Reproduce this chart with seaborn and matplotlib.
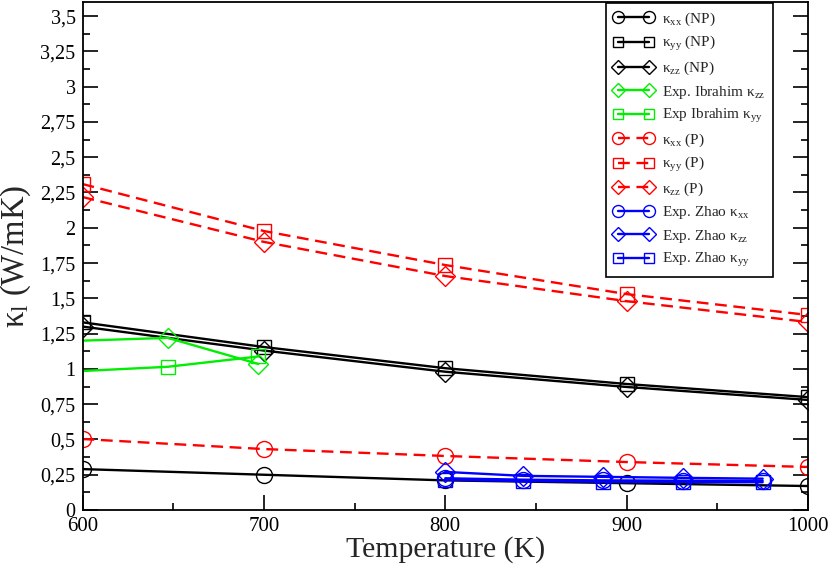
import matplotlib
matplotlib.use("Agg")
import matplotlib.pyplot as plt
import seaborn as sns
import pandas as pd
from matplotlib.ticker import MultipleLocator, FixedLocator

# ---- data ----
T_sim = [600, 700, 800, 900, 1000]
kxx_np = [0.29, 0.25, 0.21, 0.19, 0.17]
kyy_np = [1.33, 1.155, 1.005, 0.893, 0.80]
kzz_np = [1.30, 1.13, 0.98, 0.872, 0.78]
kxx_p = [0.503, 0.432, 0.383, 0.34, 0.305]
kyy_p = [2.31, 1.977, 1.736, 1.53, 1.382]
kzz_p = [2.218, 1.90, 1.658, 1.48, 1.332]

T_ibr = [550, 647, 697]
ibr_kzz = [1.179, 1.22, 1.035]
ibr_kyy = [0.953, 1.015, 1.088]

T_zhao = [800, 843, 887, 931, 975]
zhao_kxx = [0.225, 0.215, 0.21, 0.208, 0.207]
zhao_kzz = [0.27, 0.242, 0.235, 0.228, 0.222]
zhao_kyy = [0.215, 0.205, 0.2, 0.198, 0.197]

yticks = [0, 0.25, 0.5, 0.75, 1, 1.25, 1.5, 1.75, 2, 2.25, 2.5, 2.75, 3, 3.25, 3.5]
ytick_labels = ["0", "0,25", "0,5", "0,75", "1", "1,25", "1,5", "1,75", "2",
                "2,25", "2,5", "2,75", "3", "3,25", "3,5"]
xticks = [600, 700, 800, 900, 1000]

sns.set_style("ticks")
plt.rcParams["font.family"] = ["Liberation Serif", "DejaVu Serif"]
plt.rcParams["mathtext.fontset"] = "custom"
plt.rcParams["mathtext.rm"] = "Liberation Serif"
plt.rcParams["mathtext.it"] = "Liberation Serif:italic"

fig = plt.figure(figsize=(8.3, 5.67), dpi=100)
ax = fig.add_axes([0.0994, 0.1005, 0.8741, 0.896])

series = [
    (T_sim, kxx_np, "black", "o", "-", "κ$_{\\mathrm{xx}}$ (NP)"),
    (T_sim, kyy_np, "black", "s", "-", "κ$_{\\mathrm{yy}}$ (NP)"),
    (T_sim, kzz_np, "black", "D", "-", "κ$_{\\mathrm{zz}}$ (NP)"),
    (T_ibr, ibr_kzz, "#00ee00", "D", "-", "Exp. Ibrahim κ$_{\\mathrm{zz}}$"),
    (T_ibr, ibr_kyy, "#00ee00", "s", "-", "Exp Ibrahim κ$_{\\mathrm{yy}}$"),
    (T_sim, kxx_p, "red", "o", "--", "κ$_{\\mathrm{xx}}$ (P)"),
    (T_sim, kyy_p, "red", "s", "--", "κ$_{\\mathrm{yy}}$ (P)"),
    (T_sim, kzz_p, "red", "D", "--", "κ$_{\\mathrm{zz}}$ (P)"),
    (T_zhao, zhao_kxx, "blue", "o", "-", "Exp. Zhao κ$_{\\mathrm{xx}}$"),
    (T_zhao, zhao_kzz, "blue", "D", "-", "Exp. Zhao κ$_{\\mathrm{zz}}$"),
    (T_zhao, zhao_kyy, "blue", "s", "-", "Exp. Zhao κ$_{\\mathrm{yy}}$"),
]

for x, y, c, m, ls, lab in series:
    df = pd.DataFrame({"T": x, "k": y})
    msize = 11.5 if m == "o" else 10
    kw = dict(color=c, marker=m, markersize=msize, markerfacecolor="none",
              markeredgecolor=c, markeredgewidth=1.0, linewidth=1.7)
    sns.lineplot(data=df, x="T", y="k", ax=ax, label=lab, sort=False,
                 estimator=None, **kw)
    if ls == "--":
        ax.lines[-1].set_linestyle((0, (5, 2.8)))

ax.set_xlim(600, 1000)
ax.set_ylim(0, 3.6)
ax.xaxis.set_major_locator(FixedLocator(xticks))
ax.xaxis.set_minor_locator(MultipleLocator(50))
ax.yaxis.set_major_locator(FixedLocator(yticks))
ax.set_yticklabels(ytick_labels)
ax.set_xticklabels([str(t) for t in xticks])
ax.yaxis.set_minor_locator(MultipleLocator(0.125))
ax.tick_params(which="both", direction="in", top=False, right=True,
               width=1.2, colors="black")
ax.tick_params(axis="x", labelsize=15, pad=5)
ax.tick_params(axis="y", labelsize=14.5, pad=5)
ax.tick_params(which="major", length=10.5)
ax.tick_params(which="minor", length=5)
for s in ax.spines.values():
    s.set_visible(True)
    s.set_linewidth(1.3)
    s.set_color("black")

ax.set_xlabel("Temperature (K)", fontsize=21.5, labelpad=0)
ax.set_ylabel("κ$_{\\mathrm{l}}$ (W/mK)", fontsize=23.5, labelpad=5)

leg = ax.legend(loc="upper right", bbox_to_anchor=(0.952, 0.998), numpoints=2,
                handlelength=2.6, fontsize=11, frameon=True, fancybox=False,
                framealpha=1, edgecolor="black", borderpad=0.5, labelspacing=0.42,
                markerscale=0.75, handletextpad=0.6, borderaxespad=0)
leg.get_frame().set_linewidth(1.2)

fig.savefig("out.png", dpi=100)
